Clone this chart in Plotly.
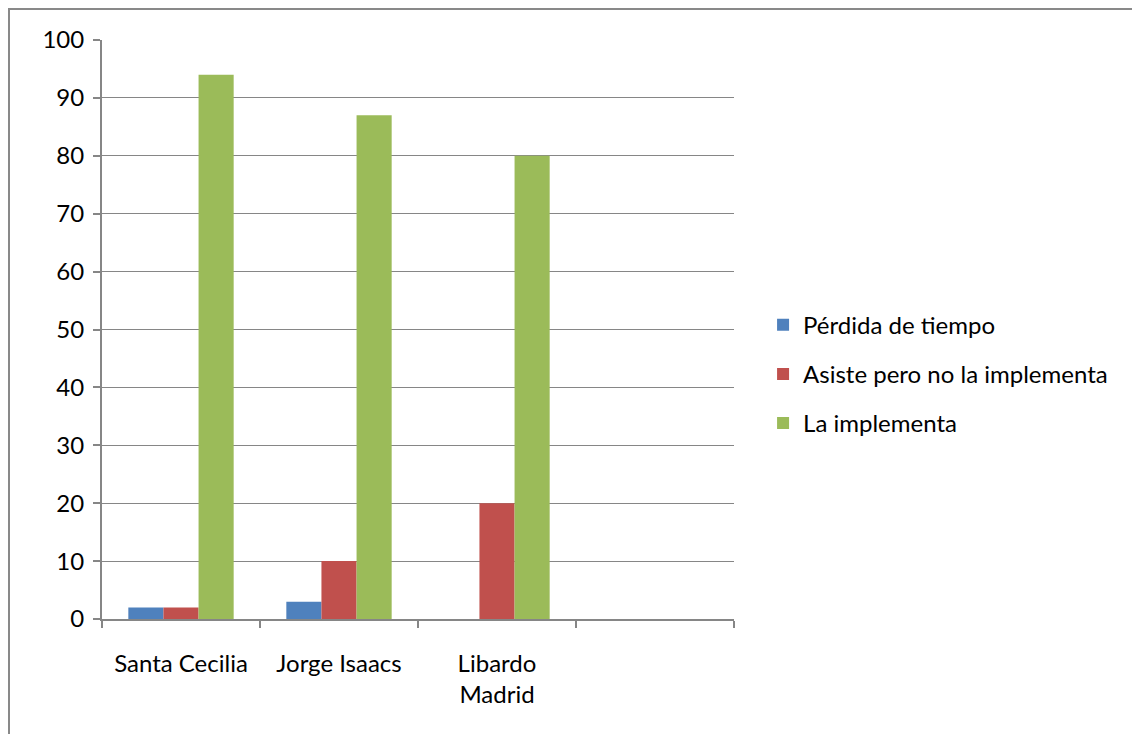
import plotly.graph_objects as go

categories = ["Santa Cecilia", "Jorge Isaacs", "Libardo<br>Madrid", " "]
perdida = [2, 3, 0, None]
asiste = [2, 10, 20, None]
implementa = [94, 87, 80, None]
y_ticks = [0, 10, 20, 30, 40, 50, 60, 70, 80, 90, 100]

series = [
    ("Pérdida de tiempo", perdida, "#4F81BD"),
    ("Asiste pero no la implementa", asiste, "#C0504D"),
    ("La implementa", implementa, "#9BBB59"),
]

FONT = "Lato, 'Open Sans', sans-serif"
GRAY = "#868686"
FS = 24

# page body has an 8px margin; figure coordinates are offset by 8px
OFF = 8
W, H = 1140 - OFF, 734 - OFF
L, R, T, B = 102 - OFF, 734 - OFF, 40 - OFF, 619 - OFF
PW, PH = R - L, B - T

fig = go.Figure()
for i, (name, vals, col) in enumerate(series):
    fig.add_trace(go.Bar(
        x=categories, y=vals, name=name, marker_color=col,
        marker_line_width=0, legendgroup=f"g{i}",
    ))

fig.update_layout(
    width=W, height=H,
    margin=dict(l=L, r=W - R, t=T, b=H - B),
    paper_bgcolor="white", plot_bgcolor="white",
    barmode="group", bargap=1/3, bargroupgap=0,
    font=dict(family=FONT, size=FS, color="#000000"),
    showlegend=True,
    legend=dict(
        x=1.046, xanchor="left", y=0.423, yanchor="middle",
        font=dict(family=FONT, size=FS, color="#000000"),
        tracegroupgap=15, itemwidth=30, traceorder="grouped",
        bgcolor="rgba(0,0,0,0)",
    ),
    shapes=[dict(
        type="rect", xref="paper", yref="paper",
        x0=(1 - L) / PW, x1=(W + 20 - L) / PW,
        y0=(B - (H + 20)) / PH, y1=(B - 1) / PH,
        line=dict(color="#898989", width=2), fillcolor="rgba(0,0,0,0)",
        layer="below",
    )],
)
fig.update_xaxes(
    type="category", showline=True, linecolor=GRAY, linewidth=2,
    ticks="outside", tickson="boundaries", ticklen=7, tickcolor=GRAY, tickwidth=2,
    showgrid=False, ticklabelstandoff=22,
    tickfont=dict(family=FONT, size=FS, color="#000000"),
)
fig.update_yaxes(
    range=[0, 100], tickvals=y_ticks, showline=True, linecolor=GRAY, linewidth=2,
    ticks="outside", ticklen=7, tickcolor=GRAY, tickwidth=2,
    showgrid=True, gridcolor=GRAY, gridwidth=1, zeroline=False,
    ticklabelstandoff=4,
    tickfont=dict(family=FONT, size=FS, color="#000000"),
)

fig.write_html("out.html")
